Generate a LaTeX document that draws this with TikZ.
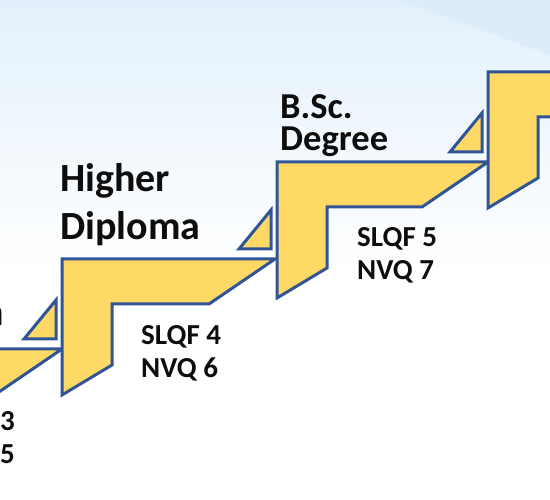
\documentclass[tikz,border=0pt]{standalone}
\usepackage{fontspec}
\setmainfont{Carlito}
\usepackage{xcolor}
\usepackage{tikz}
\usetikzlibrary{positioning}
\definecolor{stepfill}{HTML}{FFD966}
\definecolor{stepline}{HTML}{2F5597}
\definecolor{skytop}{HTML}{E2F0FB}
\definecolor{skyband}{HTML}{DCECF9}
\definecolor{ink}{HTML}{0D0D0D}
\tikzset{
  stepshape/.style = {fill=stepfill, draw=stepline, line width=3pt, line join=miter},
  riser/.style     = {stepshape},
  title/.style     = {font=\fontsize{40}{48}\selectfont\bfseries, text=ink,
                      inner sep=0pt, anchor=base west},
  grade/.style     = {font=\fontsize{29}{35}\selectfont\bfseries, text=ink,
                      inner sep=0pt, anchor=base west},
}

\begin{document}
\begin{tikzpicture}[x=1pt, y=-1pt]
  \useasboundingbox (0,0) rectangle (550,500);
  \clip (0,0) rectangle (550,500);

  % backdrop
  \shade[top color=skytop, bottom color=white] (0,0) rectangle (550,270);
  \fill[skyband] (400,0) -- (550,0) -- (550,55) -- cycle;

  % stairs, left to right
  \draw[stepshape] (-151,349) -- ++(213,0) -- ++(-66,45) -- ++(-97,0) -- ++(0,61) -- ++(-50,30) -- cycle;
  \draw[riser] (56,300) -- (56,339) -- (24,339) -- cycle;
  \draw[stepshape] (62,259) -- ++(213,0) -- ++(-66,45) -- ++(-97,0) -- ++(0,61) -- ++(-50,30) -- cycle;
  \draw[riser] (271,210) -- (271,249) -- (239,249) -- cycle;
  \draw[stepshape] (277,162) -- ++(211,0) -- ++(-66,45) -- ++(-95,0) -- ++(0,61) -- ++(-50,30) -- cycle;
  \draw[riser] (482,113) -- (482,152) -- (450,152) -- cycle;
  \draw[stepshape] (488,72) -- ++(211,0) -- ++(-66,45) -- ++(-95,0) -- ++(0,61) -- ++(-50,30) -- cycle;

  % level names
  \node[title, anchor=base east] (hd0) at (4,326) {n};
  \node[title] (hd1) at (60,192) {Higher};
  \node[title, below=48pt of hd1.base west, anchor=base west] (hd2) {Diploma};
  \node[title, font=\fontsize{36.5}{32}\selectfont\bfseries, align=left, anchor=north west]
    (bsc) at (280,94) {B.Sc.\\Degree};

  % qualification levels
  \node[grade] (q3a) at (0,431) {3};
  \node[grade] (q3b) at (0,464) {5};
  \node[grade] (q4a) at (141,345) {SLQF 4};
  \node[grade, below=33pt of q4a.base west, anchor=base west] (q4b) {NVQ 6};
  \node[grade] (q5a) at (357,247) {SLQF 5};
  \node[grade, below=33pt of q5a.base west, anchor=base west] (q5b) {NVQ 7};
\end{tikzpicture}
\end{document}
